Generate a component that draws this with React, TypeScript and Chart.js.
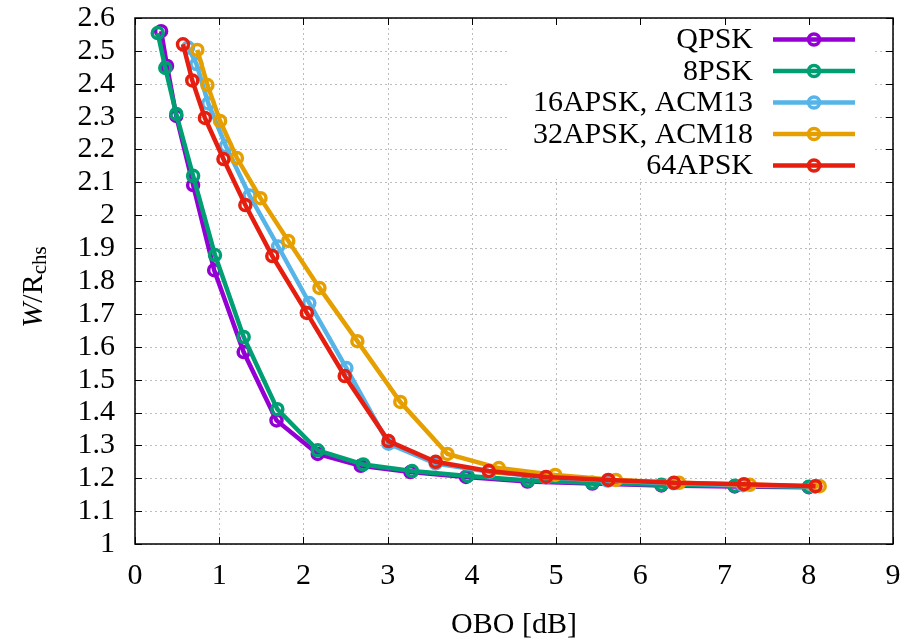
import React, { useEffect, useRef } from 'react';
import { Chart, registerables } from 'chart.js';

Chart.register(...registerables);

const FONT = "'Liberation Serif', 'Times New Roman', serif";
const FS = 30;

const seriesNames = ['QPSK', '8PSK', '16APSK, ACM13', '32APSK, ACM18', '64APSK'];
const seriesColors = ['#9400d3', '#009e73', '#56b4e9', '#e69f00', '#e51e10'];

const qpskX = [0.31, 0.38, 0.49, 0.69, 0.94, 1.29, 1.68, 2.17, 2.68, 3.27, 3.93, 4.66, 5.43, 6.25, 7.12, 8.0];
const qpskY = [2.56, 2.454, 2.302, 2.092, 1.833, 1.584, 1.376, 1.274, 1.238, 1.219, 1.204, 1.19, 1.184, 1.178, 1.175, 1.173];

const psk8X = [0.27, 0.36, 0.49, 0.69, 0.95, 1.29, 1.69, 2.17, 2.71, 3.29, 3.95, 4.67, 5.43, 6.25, 7.12, 8.0];
const psk8Y = [2.554, 2.448, 2.308, 2.12, 1.879, 1.63, 1.41, 1.285, 1.242, 1.222, 1.207, 1.193, 1.186, 1.18, 1.177, 1.174];

const apsk16X = [0.63, 0.73, 0.87, 1.08, 1.36, 1.7, 2.07, 2.51, 3.01, 3.57, 4.21, 4.88, 5.61, 6.39, 7.22, 8.07];
const apsk16Y = [2.51, 2.46, 2.34, 2.21, 2.06, 1.905, 1.733, 1.535, 1.305, 1.245, 1.22, 1.203, 1.193, 1.185, 1.179, 1.175];

const apsk32X = [0.74, 0.86, 1.01, 1.21, 1.49, 1.82, 2.19, 2.64, 3.15, 3.71, 4.32, 4.99, 5.71, 6.46, 7.3, 8.13];
const apsk32Y = [2.503, 2.396, 2.287, 2.174, 2.052, 1.922, 1.779, 1.617, 1.432, 1.274, 1.231, 1.21, 1.195, 1.186, 1.18, 1.176];

const apsk64X = [0.57, 0.68, 0.83, 1.05, 1.31, 1.63, 2.04, 2.49, 3.01, 3.57, 4.2, 4.88, 5.62, 6.4, 7.23, 8.08];
const apsk64Y = [2.52, 2.41, 2.296, 2.171, 2.031, 1.876, 1.703, 1.511, 1.313, 1.25, 1.222, 1.204, 1.195, 1.186, 1.182, 1.176];

const seriesX = [qpskX, psk8X, apsk16X, apsk32X, apsk64X];
const seriesY = [qpskY, psk8Y, apsk16Y, apsk32Y, apsk64Y];

const xTickValues = [0, 1, 2, 3, 4, 5, 6, 7, 8, 9];
const yTickValues = [1, 1.1, 1.2, 1.3, 1.4, 1.5, 1.6, 1.7, 1.8, 1.9, 2, 2.1, 2.2, 2.3, 2.4, 2.5, 2.6];

const xTitle = 'OBO [dB]';

const decorPlugin = {
  id: 'decor',
  beforeDatasetsDraw(chart: any) {
    const { ctx, chartArea: a, scales } = chart;
    ctx.save();
    ctx.strokeStyle = '#bdbdbd';
    ctx.lineWidth = 1;
    ctx.setLineDash([2, 3]);
    xTickValues.forEach((v) => {
      const px = Math.round(scales.x.getPixelForValue(v)) + 0.5;
      ctx.beginPath();
      ctx.moveTo(px, a.top);
      ctx.lineTo(px, a.bottom);
      ctx.stroke();
    });
    yTickValues.forEach((v) => {
      const py = Math.round(scales.y.getPixelForValue(v)) + 0.5;
      ctx.beginPath();
      ctx.moveTo(a.left, py);
      ctx.lineTo(a.right, py);
      ctx.stroke();
    });
    ctx.restore();
  },
  afterDatasetsDraw(chart: any) {
    const { ctx, chartArea: a, scales } = chart;
    ctx.save();
    // legend background box
    const boxLeft = 508;
    const boxRight = 872;
    ctx.fillStyle = '#ffffff';
    ctx.fillRect(boxLeft, a.top + 1, boxRight - boxLeft, 160);

    // frame
    ctx.strokeStyle = '#000';
    ctx.lineWidth = 1.5;
    ctx.strokeRect(a.left, a.top, a.right - a.left, a.bottom - a.top);

    // inward ticks
    ctx.lineWidth = 1;
    const tl = 7;
    xTickValues.forEach((v) => {
      const px = Math.round(scales.x.getPixelForValue(v)) + 0.5;
      ctx.beginPath();
      ctx.moveTo(px, a.bottom);
      ctx.lineTo(px, a.bottom - tl);
      ctx.moveTo(px, a.top);
      ctx.lineTo(px, a.top + tl);
      ctx.stroke();
    });
    yTickValues.forEach((v) => {
      const py = Math.round(scales.y.getPixelForValue(v)) + 0.5;
      ctx.beginPath();
      ctx.moveTo(a.left, py);
      ctx.lineTo(a.left + tl, py);
      ctx.moveTo(a.right, py);
      ctx.lineTo(a.right - tl, py);
      ctx.stroke();
    });

    // legend content
    const rowY0 = 39.5;
    const rowStep = 31.5;
    ctx.font = `${FS}px ${FONT}`;
    ctx.textAlign = 'right';
    ctx.textBaseline = 'middle';
    seriesNames.forEach((name, i) => {
      const y = rowY0 + i * rowStep;
      ctx.fillStyle = '#000';
      ctx.fillText(name, 753, y + 1);
      ctx.strokeStyle = seriesColors[i];
      ctx.lineWidth = 4.5;
      ctx.beginPath();
      ctx.moveTo(773, y);
      ctx.lineTo(855, y);
      ctx.stroke();
      ctx.lineWidth = 3.5;
      ctx.beginPath();
      ctx.arc(814, y, 5.5, 0, Math.PI * 2);
      ctx.stroke();
    });
    ctx.restore();
  },
  afterDraw(chart: any) {
    const { ctx, chartArea: a } = chart;
    ctx.save();
    // x title
    ctx.fillStyle = '#000';
    ctx.font = `${FS}px ${FONT}`;
    ctx.textAlign = 'center';
    ctx.textBaseline = 'alphabetic';
    ctx.fillText(xTitle, (a.left + a.right) / 2, 633);

    // y title: W/R_chs rotated
    ctx.translate(42, 287);
    ctx.rotate(-Math.PI / 2);
    ctx.textAlign = 'left';
    const fMain = `${FS}px ${FONT}`;
    const fIt = `italic ${FS}px ${FONT}`;
    const fSub = `21px ${FONT}`;
    ctx.font = fIt;
    const wW = ctx.measureText('W').width;
    ctx.font = fMain;
    const wR = ctx.measureText('/R').width;
    ctx.font = fSub;
    const wS = ctx.measureText('chs').width;
    const total = wW + wR + wS;
    let x = -total / 2;
    ctx.font = fIt;
    ctx.fillText('W', x, 0);
    x += wW;
    ctx.font = fMain;
    ctx.fillText('/R', x, 0);
    x += wR;
    ctx.font = fSub;
    ctx.fillText('chs', x, 4);
    ctx.restore();
  },
};

export default function App() {
  const canvasRef = useRef<HTMLCanvasElement | null>(null);

  useEffect(() => {
    const canvas = canvasRef.current;
    if (!canvas) return;
    const datasets = seriesNames.map((name, i) => ({
      label: name,
      data: seriesX[i].map((x, j) => ({ x, y: seriesY[i][j] })),
      showLine: true,
      borderColor: seriesColors[i],
      backgroundColor: seriesColors[i],
      borderWidth: 4.5,
      pointRadius: 5.5,
      pointBorderWidth: 3.5,
      pointBackgroundColor: 'rgba(0,0,0,0)',
      pointBorderColor: seriesColors[i],
      order: 5 - i,
      tension: 0,
    }));
    const chart = new Chart(canvas, {
      type: 'scatter',
      data: { datasets },
      options: {
        animation: false,
        responsive: false,
        maintainAspectRatio: false,
        layout: { padding: { top: 18, right: 13, left: 0, bottom: 0 } },
        plugins: {
          legend: { display: false },
          tooltip: { enabled: false },
        },
        scales: {
          x: {
            type: 'linear',
            min: 0,
            max: 9,
            afterFit: (s: any) => {
              s.height = 98;
              s.paddingLeft = 0;
              s.paddingRight = 0;
            },
            afterBuildTicks: (s: any) => {
              s.ticks = xTickValues.map((v) => ({ value: v }));
            },
            ticks: {
              font: { family: FONT, size: FS },
              color: '#000',
              padding: 14,
              maxRotation: 0,
              autoSkip: false,
              callback: (v: any) => String(v),
            },
            grid: { display: false, drawTicks: false },
            border: { display: false },
          },
          y: {
            type: 'linear',
            min: 1,
            max: 2.6,
            afterFit: (s: any) => {
              s.width = 135;
              s.paddingTop = 0;
              s.paddingBottom = 0;
            },
            afterBuildTicks: (s: any) => {
              s.ticks = yTickValues.map((v) => ({ value: v }));
            },
            ticks: {
              font: { family: FONT, size: FS },
              color: '#000',
              padding: 20,
              autoSkip: false,
              callback: (v: any) => String(Number(Number(v).toFixed(1))),
            },
            grid: { display: false, drawTicks: false },
            border: { display: false },
          },
        },
      },
      plugins: [decorPlugin],
    });
    return () => chart.destroy();
  }, []);

  return (
    <div style={{ position: 'fixed', left: 0, top: 0, width: 906, height: 642, background: '#fff' }}>
      <canvas ref={canvasRef} width={906} height={642} style={{ width: 906, height: 642 }} />
    </div>
  );
}
